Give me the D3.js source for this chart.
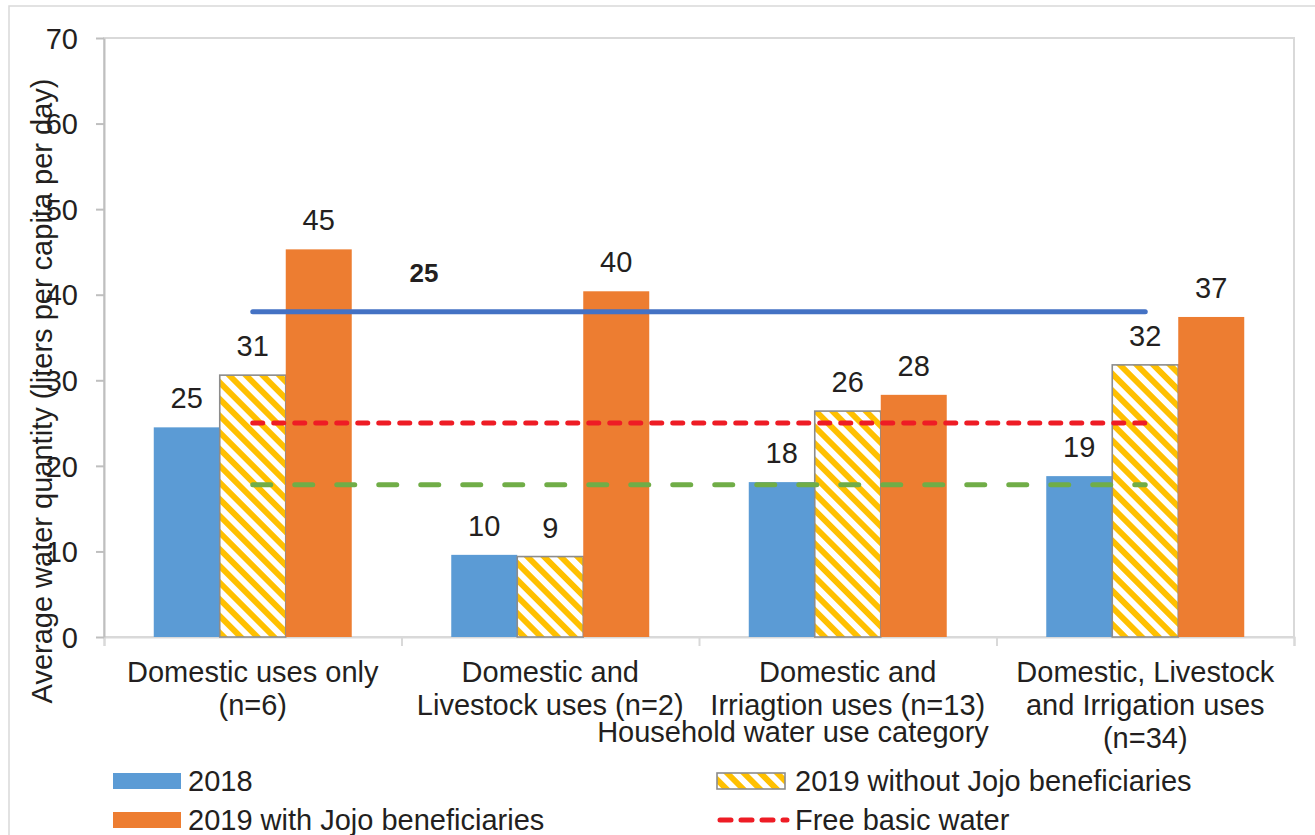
<!DOCTYPE html>
<html>
<head>
<meta charset="utf-8">
<script src="https://cdn.jsdelivr.net/npm/d3@7"></script>
<style>
  html, body { margin: 0; padding: 0; background: #fff; }
  svg { display: block; font-family: "Liberation Sans", Arial, sans-serif; }
</style>
</head>
<body>
<svg id="chart" width="1315" height="835"></svg>
<script>
// ---- data ----
const categories = [
  "Domestic uses only (n=6)",
  "Domestic and Livestock uses (n=2)",
  "Domestic and Irriagtion uses (n=13)",
  "Domestic, Livestock and Irrigation uses (n=34)"
];
const categoryLines = [
  ["Domestic uses only", "(n=6)"],
  ["Domestic and", "Livestock uses (n=2)"],
  ["Domestic and", "Irriagtion uses (n=13)"],
  ["Domestic, Livestock", "and Irrigation uses", "(n=34)"]
];
const seriesNames = ["2018", "2019 without Jojo beneficiaries", "2019 with Jojo beneficiaries"];
const values2018 = [24.5, 9.6, 18.1, 18.8];
const values2019Without = [30.6, 9.4, 26.4, 31.8];
const values2019With = [45.3, 40.4, 28.3, 37.4];
const solidLineValues = [38, 38, 38, 38];
const freeBasicWater = [25, 25, 25, 25];
const greenLineValues = [17.8, 17.8, 17.8, 17.8];
const yTicks = [0, 10, 20, 30, 40, 50, 60, 70];
const lineNote = "25";

// ---- styles ----
const COLORS = {
  blue: "#5B9BD5",
  orange: "#ED7D31",
  yellow: "#FFC000",
  hatchEdge: "#8C8C8C",
  solidLine: "#4472C4",
  red: "#EE1C25",
  green: "#70AD47",
  text: "#231F20",
  axis: "#BFBFBF",
  frame: "#D9D9D9"
};
const FONT = 29;

const svg = d3.select("#chart");
const plot = { left: 104, right: 1294, top: 38, bottom: 637 };

const x = d3.scaleBand().domain(categories).range([plot.left, plot.right]).padding(0);
const xs = d3.scaleBand().domain(seriesNames).range([0, x.bandwidth()])
  .paddingInner(0).paddingOuter(0.754);
const y = d3.scaleLinear().domain([0, 70]).range([plot.bottom, plot.top]);

// hatch pattern
const defs = svg.append("defs");
const pat = defs.append("pattern")
  .attr("id", "hatch")
  .attr("patternUnits", "userSpaceOnUse")
  .attr("width", 11.8).attr("height", 11.8)
  .attr("patternTransform", "rotate(-45)");
pat.append("rect").attr("width", 11.8).attr("height", 11.8).attr("fill", "#fff");
pat.append("rect").attr("x", 0).attr("width", 5.9).attr("height", 11.8).attr("fill", COLORS.yellow);

// outer chart border
svg.append("rect")
  .attr("x", 9).attr("y", 6).attr("width", 1330).attr("height", 850)
  .attr("fill", "none").attr("stroke", COLORS.frame).attr("stroke-width", 1.5);

// plot frame
svg.append("rect")
  .attr("x", plot.left).attr("y", plot.top)
  .attr("width", plot.right - plot.left).attr("height", plot.bottom - plot.top)
  .attr("fill", "none").attr("stroke", COLORS.frame).attr("stroke-width", 2);

// bottom axis: ticks at category boundaries
const boundary = d3.scaleLinear().domain([0, categories.length]).range([plot.left, plot.right]);
const gx = svg.append("g").attr("transform", `translate(0,${plot.bottom})`)
  .call(d3.axisBottom(boundary).tickValues(d3.range(categories.length + 1)).tickSize(9).tickFormat(""));
gx.select(".domain").attr("stroke", COLORS.frame).attr("stroke-width", 2);
gx.selectAll(".tick line").attr("stroke", COLORS.frame).attr("stroke-width", 2);

// left axis
const gy = svg.append("g").attr("transform", `translate(${plot.left},0)`)
  .call(d3.axisLeft(y).tickValues(yTicks).tickSize(8).tickSizeOuter(0));
gy.select(".domain").attr("stroke", COLORS.axis).attr("stroke-width", 2);
gy.selectAll(".tick line").attr("stroke", COLORS.axis).attr("stroke-width", 2);
gy.selectAll(".tick text")
  .attr("x", -26).attr("dy", "0.35em")
  .attr("font-size", FONT).attr("fill", COLORS.text)
  .attr("font-family", "'Liberation Sans', Arial, sans-serif");

// bars
const seriesData = [
  { name: seriesNames[0], values: values2018, fill: COLORS.blue, stroke: "none" },
  { name: seriesNames[1], values: values2019Without, fill: "url(#hatch)", stroke: COLORS.hatchEdge },
  { name: seriesNames[2], values: values2019With, fill: COLORS.orange, stroke: "none" }
];
const fmt = d3.format(".0f");

seriesData.forEach(s => {
  const g = svg.append("g");
  const rows = categories.map((c, i) => ({ c, v: s.values[i] }));
  g.selectAll("rect").data(rows).join("rect")
    .attr("x", d => x(d.c) + xs(s.name))
    .attr("y", d => y(d.v))
    .attr("width", xs.bandwidth())
    .attr("height", d => y(0) - y(d.v))
    .attr("fill", s.fill)
    .attr("stroke", s.stroke)
    .attr("stroke-width", s.stroke === "none" ? 0 : 1.6);
  g.selectAll("text").data(rows).join("text")
    .attr("x", d => x(d.c) + xs(s.name) + xs.bandwidth() / 2)
    .attr("y", d => y(d.v) - 19)
    .attr("text-anchor", "middle")
    .attr("font-size", FONT)
    .attr("fill", COLORS.text)
    .text(d => fmt(d.v));
});

// reference lines across category centres
const cx = c => x(c) + x.bandwidth() / 2;
const lineGen = d3.line().x(d => cx(d.c)).y(d => y(d.v));
const toRows = arr => categories.map((c, i) => ({ c, v: arr[i] }));

svg.append("path").datum(toRows(solidLineValues))
  .attr("d", lineGen).attr("fill", "none")
  .attr("stroke", COLORS.solidLine).attr("stroke-width", 5).attr("stroke-linecap", "round");

svg.append("path").datum(toRows(freeBasicWater))
  .attr("d", lineGen).attr("fill", "none")
  .attr("stroke", COLORS.red).attr("stroke-width", 5)
  .attr("stroke-linecap", "round").attr("stroke-dasharray", "10,11");

svg.append("path").datum(toRows(greenLineValues))
  .attr("d", lineGen).attr("fill", "none")
  .attr("stroke", COLORS.green).attr("stroke-width", 5)
  .attr("stroke-linecap", "round").attr("stroke-dasharray", "18,24");

// note above the solid line
svg.append("text")
  .attr("x", 424).attr("y", 282)
  .attr("text-anchor", "middle")
  .attr("font-size", 26).attr("font-weight", "bold")
  .attr("fill", COLORS.text)
  .text(lineNote);

// category labels
categories.forEach((c, i) => {
  const t = svg.append("text")
    .attr("x", cx(c)).attr("y", 682)
    .attr("text-anchor", "middle")
    .attr("font-size", FONT).attr("fill", COLORS.text);
  categoryLines[i].forEach((ln, j) => {
    t.append("tspan").attr("x", cx(c)).attr("y", 682 + j * 33).text(ln);
  });
});

// axis titles
svg.append("text")
  .attr("x", 793).attr("y", 742)
  .attr("text-anchor", "middle")
  .attr("font-size", FONT).attr("fill", COLORS.text)
  .text("Household water use category");

svg.append("text")
  .attr("transform", "translate(52,391) rotate(-90)")
  .attr("text-anchor", "middle")
  .attr("font-size", FONT).attr("fill", COLORS.text)
  .text("Average water quantity (liters per capita per day)");

// legend
const legend = svg.append("g");
const legendItems = [
  { label: seriesNames[0], kind: "rect", fill: COLORS.blue, stroke: "none", x: 113, y: 773 },
  { label: seriesNames[1], kind: "rect", fill: "url(#hatch)", stroke: COLORS.hatchEdge, x: 717, y: 773 },
  { label: seriesNames[2], kind: "rect", fill: COLORS.orange, stroke: "none", x: 113, y: 812 },
  { label: "Free basic water", kind: "line", stroke: COLORS.red, x: 717, y: 812 }
];
legendItems.forEach(it => {
  if (it.kind === "rect") {
    legend.append("rect")
      .attr("x", it.x).attr("y", it.y).attr("width", 68).attr("height", 16)
      .attr("fill", it.fill).attr("stroke", it.stroke)
      .attr("stroke-width", it.stroke === "none" ? 0 : 1.6);
  } else {
    legend.append("line")
      .attr("x1", it.x + 3).attr("x2", it.x + 70)
      .attr("y1", it.y + 8).attr("y2", it.y + 8)
      .attr("stroke", it.stroke).attr("stroke-width", 5)
      .attr("stroke-linecap", "round").attr("stroke-dasharray", "11,10");
  }
  legend.append("text")
    .attr("x", it.kind === "rect" && it.x < 400 ? it.x + 75 : it.x + 78)
    .attr("y", it.y + 18)
    .attr("font-size", FONT).attr("fill", COLORS.text)
    .text(it.label);
});
</script>
</body>
</html>
